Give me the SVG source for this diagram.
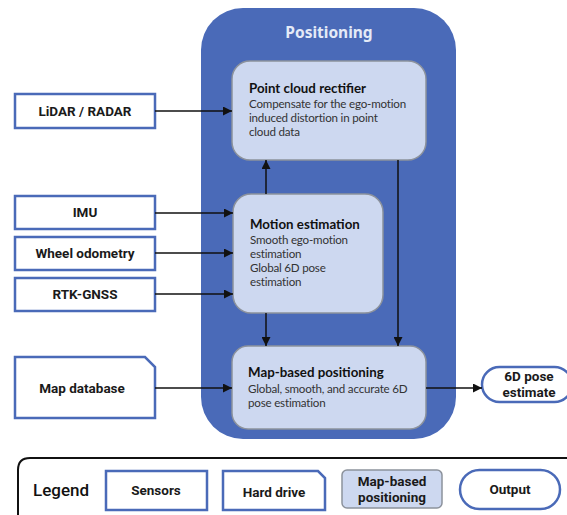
<svg xmlns="http://www.w3.org/2000/svg" width="567" height="515" viewBox="0 0 567 515">
  <defs>
    <marker id="arrow" viewBox="0 0 10 10" refX="10" refY="5" markerWidth="9" markerHeight="9" markerUnits="userSpaceOnUse" orient="auto">
      <path d="M0,0 L10,5 L0,10 z" fill="#111"/>
    </marker>
    <style>
      .sensor { fill: #ffffff; stroke: #4a6ab8; stroke-width: 2.5; }
      .stage { fill: #cdd8f0; stroke: #8c929c; stroke-width: 1.5; }
      .label { font-family: Roboto, "Liberation Sans", sans-serif; font-weight: bold; font-size: 13.5px; fill: #1a1a1a; text-anchor: middle; }
      .title { font-family: Lato, "Noto Sans", sans-serif; font-weight: bold; font-size: 13.3px; fill: #111; }
      .body { font-family: Lato, "Noto Sans", sans-serif; font-size: 11.6px; letter-spacing: -0.2px; fill: #333; }
      .conn { stroke: #111; stroke-width: 1.5; fill: none; marker-end: url(#arrow); }
    </style>
  </defs>
  <rect width="567" height="515" fill="#ffffff"/>

  <!-- Positioning container -->
  <g id="positioning">
    <rect x="201" y="8" width="255" height="431" rx="42" fill="#4a6ab8"/>
    <text x="329" y="38" text-anchor="middle" font-family="'Noto Sans', 'Liberation Sans', sans-serif" font-weight="bold" font-size="15.5" fill="#e4eaf7">Positioning</text>
  </g>

  <!-- Sensors -->
  <g id="lidar">
    <rect class="sensor" x="15" y="94" width="140" height="34"/>
    <text class="label" x="85" y="116">LiDAR / RADAR</text>
  </g>
  <g id="imu">
    <rect class="sensor" x="15" y="196" width="140" height="33"/>
    <text class="label" x="85" y="217">IMU</text>
  </g>
  <g id="wheel-odometry">
    <rect class="sensor" x="15" y="237" width="140" height="33"/>
    <text class="label" x="85" y="258">Wheel odometry</text>
  </g>
  <g id="rtk-gnss">
    <rect class="sensor" x="15" y="278" width="140" height="33"/>
    <text class="label" x="85" y="299">RTK-GNSS</text>
  </g>

  <!-- Hard drive -->
  <g id="map-database">
    <path class="sensor" d="M15,357 H145 L155,367 V418 H15 Z"/>
    <text class="label" x="82" y="393">Map database</text>
  </g>

  <!-- Processing stages -->
  <g id="point-cloud-rectifier">
    <rect class="stage" x="232" y="61" width="194" height="99" rx="18"/>
    <text class="title" x="249" y="93">Point cloud rectifier</text>
    <text class="body" x="249" y="108">Compensate for the ego-motion</text>
    <text class="body" x="249" y="122">induced distortion in point</text>
    <text class="body" x="249" y="136">cloud data</text>
  </g>
  <g id="motion-estimation">
    <rect class="stage" x="233" y="194" width="150" height="119" rx="18"/>
    <text class="title" x="250" y="229">Motion estimation</text>
    <text class="body" x="250" y="244">Smooth ego-motion</text>
    <text class="body" x="250" y="258">estimation</text>
    <text class="body" x="250" y="272">Global 6D pose</text>
    <text class="body" x="250" y="286">estimation</text>
  </g>
  <g id="map-based-positioning">
    <rect class="stage" x="232" y="346" width="194" height="83" rx="16"/>
    <text class="title" x="248" y="377">Map-based positioning</text>
    <text class="body" x="248" y="393">Global, smooth, and accurate 6D</text>
    <text class="body" x="248" y="407">pose estimation</text>
  </g>

  <!-- Output -->
  <g id="pose-estimate">
    <rect class="sensor" x="482" y="367" width="90" height="35" rx="17.5"/>
    <text class="label" x="529" y="381">6D pose</text>
    <text class="label" x="529" y="397">estimate</text>
  </g>

  <!-- Connectors -->
  <g id="connectors">
    <line class="conn" x1="155" y1="111" x2="232" y2="111"/>
    <line class="conn" x1="155" y1="213" x2="233" y2="213"/>
    <line class="conn" x1="155" y1="253" x2="233" y2="253"/>
    <line class="conn" x1="155" y1="294" x2="233" y2="294"/>
    <line class="conn" x1="155" y1="388" x2="232" y2="388"/>
    <line class="conn" x1="266" y1="194" x2="266" y2="160"/>
    <line class="conn" x1="266" y1="313" x2="266" y2="346"/>
    <line class="conn" x1="398" y1="160" x2="398" y2="346"/>
    <line class="conn" x1="426" y1="388" x2="482" y2="388"/>
  </g>

  <!-- Legend -->
  <g id="legend">
    <path d="M18,520 V470 Q18,458 30,458 H575" fill="none" stroke="#111" stroke-width="2"/>
    <text x="33" y="496" font-family="Roboto, 'Liberation Sans', sans-serif" font-weight="500" font-size="17" fill="#111">Legend</text>
    <g id="legend-sensors">
      <rect class="sensor" x="106" y="471" width="101" height="39"/>
      <text class="label" x="156" y="495">Sensors</text>
    </g>
    <g id="legend-hard-drive">
      <path class="sensor" d="M223,471 H318 L325,478 V510 H223 Z"/>
      <text class="label" x="274" y="497">Hard drive</text>
    </g>
    <g id="legend-map-based">
      <rect class="stage" x="342" y="470" width="100" height="38" rx="5"/>
      <text class="label" x="392" y="486">Map-based</text>
      <text class="label" x="392" y="502">positioning</text>
    </g>
    <g id="legend-output">
      <rect class="sensor" x="460" y="470" width="100" height="39" rx="19.5"/>
      <text class="label" x="510" y="494">Output</text>
    </g>
  </g>
</svg>
